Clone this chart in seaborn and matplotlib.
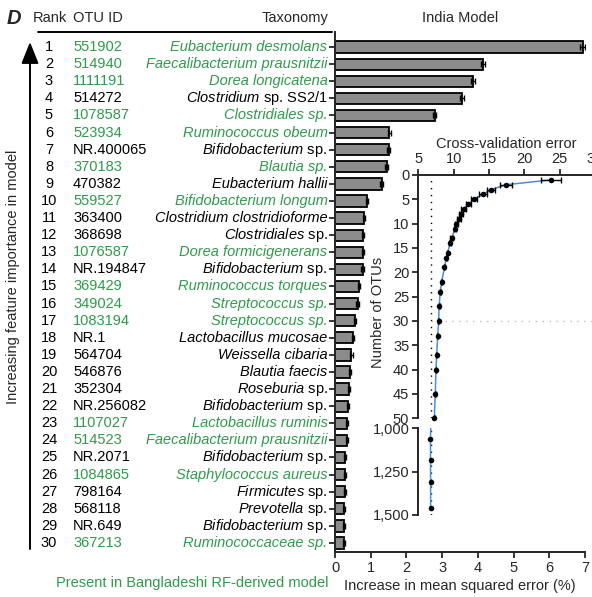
import numpy as np
import pandas as pd
import matplotlib
matplotlib.use("Agg")
import matplotlib.pyplot as plt
import matplotlib.transforms as mtransforms
from matplotlib.ticker import FuncFormatter
import seaborn as sns

# ---- feature-importance table (India model) ----
ranks = list(range(1, 31))
otu_ids = ["551902", "514940", "1111191", "514272", "1078587", "523934",
           "NR.400065", "370183", "470382", "559527", "363400", "368698",
           "1076587", "NR.194847", "369429", "349024", "1083194", "NR.1",
           "564704", "546876", "352304", "NR.256082", "1107027", "514523",
           "NR.2071", "1084865", "798164", "568118", "NR.649", "367213"]
taxonomy = ["Eubacterium desmolans", "Faecalibacterium prausnitzii",
            "Dorea longicatena", "Clostridium sp. SS2/1", "Clostridiales sp.",
            "Ruminococcus obeum", "Bifidobacterium sp.", "Blautia sp.",
            "Eubacterium hallii", "Bifidobacterium longum",
            "Clostridium clostridioforme", "Clostridiales sp.",
            "Dorea formicigenerans", "Bifidobacterium sp.", "Ruminococcus torques",
            "Streptococcus sp.", "Streptococcus sp.", "Lactobacillus mucosae",
            "Weissella cibaria", "Blautia faecis", "Roseburia sp.",
            "Bifidobacterium sp.", "Lactobacillus ruminis",
            "Faecalibacterium prausnitzii", "Bifidobacterium sp.",
            "Staphylococcus aureus", "Firmicutes sp.", "Prevotella sp.",
            "Bifidobacterium sp.", "Ruminococcaceae sp."]
in_bangladeshi = [True, True, True, False, True, True, False, True, False, True,
                  False, False, True, False, True, True, True, False, False, False,
                  False, False, True, True, False, True, False, False, False, True]
mse_increase = [6.93, 4.15, 3.86, 3.55, 2.79, 1.52, 1.50, 1.45, 1.31, 0.89,
                0.80, 0.79, 0.79, 0.77, 0.67, 0.63, 0.56, 0.50, 0.46, 0.43,
                0.38, 0.37, 0.33, 0.33, 0.29, 0.29, 0.27, 0.25, 0.24, 0.24]
mse_sem = [0.06, 0.05, 0.05, 0.05, 0.05, 0.04, 0.04, 0.04, 0.04, 0.03,
           0.03, 0.03, 0.03, 0.03, 0.03, 0.03, 0.03, 0.03, 0.03, 0.03,
           0.03, 0.03, 0.03, 0.03, 0.03, 0.03, 0.03, 0.03, 0.03, 0.03]

# ---- cross-validation curve ----
n_otus = [1, 2, 3, 4, 5, 6, 7, 8, 9, 10, 11, 13, 14, 16, 17, 19, 22, 24, 27,
          30, 33, 37, 40, 45, 50]
cv_error = [23.8, 17.4, 15.3, 14.1, 12.9, 12.1, 11.4, 11.0, 10.7, 10.4, 10.2,
            9.7, 9.5, 9.15, 8.95, 8.7, 8.3, 8.1, 7.95, 7.88, 7.75, 7.6, 7.5,
            7.4, 7.26]
cv_sd = [1.4, 0.8, 0.6, 0.55, 0.45, 0.4, 0.35, 0.3, 0.28, 0.25, 0.2, 0.15,
         0.12, 0.1, 0.1, 0.08, 0.06, 0.05, 0.05, 0.05, 0.04, 0.04, 0.04, 0.04,
         0.04]
n_otus_tail = [1063, 1183, 1311, 1458]
cv_error_tail = [6.72, 6.73, 6.74, 6.74]
cv_floor = 6.8
selected_otus = 30

GREEN = "#2f9a4c"
BAR_GRAY = "#8c8c8c"
BLUE = "#4a8fd8"
FS = 10.5

sns.set_style("ticks")
plt.rcParams["font.family"] = ["Liberation Sans", "DejaVu Sans"]
plt.rcParams["mathtext.fontset"] = "custom"
plt.rcParams["mathtext.it"] = "Liberation Sans:italic"
plt.rcParams["mathtext.rm"] = "Liberation Sans"
plt.rcParams["axes.linewidth"] = 1.4

W, H = 592, 597
fig = plt.figure(figsize=(W / 100, H / 100), dpi=100)


def fx(px):
    return px / W


def fy(py):
    return 1 - py / H


# ---- main bar chart ----
ax = fig.add_axes([fx(335), fy(551.7), fx(585) - fx(335), fy(32) - fy(551.7)])
df = pd.DataFrame({"rank": [str(r) for r in ranks], "mse": mse_increase})
sns.barplot(data=df, x="mse", y="rank", orient="h", color=BAR_GRAY,
            saturation=1, edgecolor="black", linewidth=1.3, width=0.66,
            errorbar=None, ax=ax)
ax.errorbar(mse_increase, np.arange(len(ranks)), xerr=mse_sem, fmt="none",
            ecolor="black", elinewidth=1, capsize=2, capthick=1)
ax.set_xlim(0, 7)
ax.set_ylim(len(ranks) - 1 + 0.51, -0.88)
ax.set_xticks(range(0, 8))
ax.set_yticks(np.arange(len(ranks)))
ax.set_yticklabels([])
ax.set_ylabel("")
ax.set_xlabel("Increase in mean squared error (%)", fontsize=FS, labelpad=3)
ax.tick_params(axis="both", direction="out", length=4.5, width=1.3,
               labelsize=FS, pad=2)
sns.despine(ax=ax)

# row labels: rank, OTU id, taxonomy
trans = mtransforms.blended_transform_factory(fig.transFigure, ax.transData)
for i, (r, otu, tax, shared) in enumerate(zip(ranks, otu_ids, taxonomy,
                                              in_bangladeshi)):
    col = GREEN if shared else "black"
    fig.text(fx(49), i, str(r), transform=trans, ha="center", va="center",
             fontsize=FS, color="black")
    fig.text(fx(73), i, otu, transform=trans, ha="left", va="center",
             fontsize=FS, color=col)
    if not shared and " sp." in tax:
        genus, rest = tax.split(" ", 1)
        label, style = rf"$\mathit{{{genus}}}$ {rest}", "normal"
    else:
        label, style = tax, "italic"
    fig.text(fx(327.5), i, label, transform=trans, ha="right", va="center",
             fontsize=FS, color=col, fontstyle=style)

# header
fig.text(fx(50), fy(18), "Rank", ha="center", va="center", fontsize=FS)
fig.text(fx(73), fy(18), "OTU ID", ha="left", va="center", fontsize=FS)
fig.text(fx(328), fy(18), "Taxonomy", ha="right", va="center", fontsize=FS)
fig.text(fx(460), fy(18), "India Model", ha="center", va="center", fontsize=FS)
fig.add_artist(plt.Line2D([fx(38), fx(332)], [fy(32.3), fy(32.3)],
                          color="black", lw=1.4))
fig.text(fx(7), fy(18.5), "D", ha="left", va="center", fontsize=14.5,
         fontweight="bold", fontstyle="italic")

# importance arrow and its label
fig.add_artist(matplotlib.patches.FancyArrowPatch(
    (fx(30), fy(549)), (fx(30), fy(42)), transform=fig.transFigure,
    arrowstyle="-|>,head_length=6,head_width=2.4", color="black", lw=1.4,
    mutation_scale=2.2, shrinkA=0, shrinkB=0))
fig.text(fx(13), fy(277), "Increasing feature importance in model",
         rotation=90, ha="center", va="center", fontsize=FS)
fig.text(fx(328), fy(583), "Present in Bangladeshi RF-derived model",
         ha="right", va="center", fontsize=FS, color=GREEN)

# ---- cross-validation inset (broken y axis) ----
x_left, x_right = 418.3, 595.0
ax_top = fig.add_axes([fx(x_left), fy(418.3), fx(x_right) - fx(x_left),
                       fy(175) - fy(418.3)])
ax_low = fig.add_axes([fx(x_left), fy(515), fx(x_right) - fx(x_left),
                       fy(428.3) - fy(515)])
for a in (ax_top, ax_low):
    a.patch.set_alpha(0)

all_cv = cv_error + cv_error_tail
all_n = n_otus + n_otus_tail
for a in (ax_top, ax_low):
    a.axvline(cv_floor, color="black", lw=1, ls=(0, (1, 4)), zorder=1)
    sns.lineplot(x=all_cv, y=all_n, sort=False, estimator=None, color=BLUE,
                 lw=1.1, ax=a, zorder=2)

ax_top.hlines(selected_otus, cv_floor, 30, color="#bdbdbd", lw=1,
              ls=(0, (1, 4)), zorder=1)
ax_top.errorbar(cv_error, n_otus, xerr=cv_sd, fmt="none", ecolor="black",
                elinewidth=1, capsize=2.5, capthick=1, zorder=3)
sns.scatterplot(x=cv_error, y=n_otus, color="black", s=16, edgecolor="black",
                linewidth=0, ax=ax_top, zorder=4, clip_on=False)
sns.scatterplot(x=cv_error_tail, y=n_otus_tail, color="black", s=16,
                edgecolor="black", linewidth=0, ax=ax_low, zorder=4,
                clip_on=False)

ax_top.set_xlim(5, 30)
ax_top.set_ylim(50, 0)
ax_low.set_xlim(5, 30)
ax_low.set_ylim(1500, 1000)

ax_top.xaxis.set_ticks_position("top")
ax_top.xaxis.set_label_position("top")
ax_top.set_xticks(range(5, 31, 5))
ax_top.set_yticks(range(0, 51, 5))
ax_top.set_xlabel("Cross-validation error", fontsize=FS, labelpad=3)
ax_top.set_ylabel("")
ax_top.spines["right"].set_visible(False)
ax_top.spines["bottom"].set_visible(False)
ax_top.spines["left"].set_bounds(0, 50)
ax_top.tick_params(axis="both", direction="out", length=4.5, width=1.3,
                   labelsize=FS, pad=2)

ax_low.set_yticks([1000, 1250, 1500])
ax_low.yaxis.set_major_formatter(FuncFormatter(lambda v, p: f"{int(v):,}"))
ax_low.set_xticks([])
ax_low.set_xlabel("")
ax_low.set_ylabel("")
for side in ("top", "right", "bottom"):
    ax_low.spines[side].set_visible(False)
ax_low.tick_params(axis="y", direction="out", length=4.5, width=1.3,
                   labelsize=FS, pad=2)

fig.text(fx(378), fy(312), "Number of OTUs", rotation=90, ha="center",
         va="center", fontsize=FS)

fig.savefig("out.png", dpi=100)
